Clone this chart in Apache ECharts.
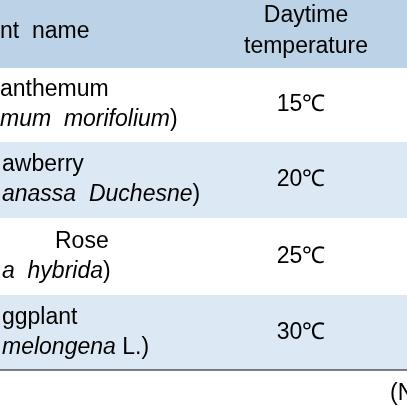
<!DOCTYPE html>
<html lang="en">
<head>
    <meta charset="UTF-8">
    <title>Table</title>
    <script src="https://cdn.jsdelivr.net/npm/echarts@6/dist/echarts.min.js"></script>
    <style>html,body{margin:0;padding:0;background:#fff;}</style>
</head>
<body>
<div id="main" style="width:407px;height:407px;"></div>
<script type="text/javascript">
    // table content (cropped on the left as in the picture)
    var headers = ['nt  name', 'Daytime\ntemperature'];
    var nameLine1 = ['anthemum', 'awberry', 'Rose', 'ggplant'];
    var nameLine2 = ['{i|mum  morifolium})', '{i|anassa  Duchesne})', '{i|a  hybrida})', '{i|melongena} L.)'];
    var nameX = [0, 2, 55, 2];
    var temps = ['15℃', '20℃', '25℃', '30℃'];
    var footnote = '(N';

    var rowTop = [68, 142, 218, 295];
    var rowBottom = [142, 218, 295, 370];
    var rowFill = ['#ffffff', '#dce8f3', '#ffffff', '#dce8f3'];
    var font = 'Liberation Sans, Arial, sans-serif';
    var fs = 23;

    var g = [];
    g.push({type: 'rect', shape: {x: 0, y: 0, width: 407, height: 68}, style: {fill: '#bcd3e7'}});
    for (var i = 0; i < temps.length; i++) {
        g.push({type: 'rect', shape: {x: 0, y: rowTop[i], width: 407, height: rowBottom[i] - rowTop[i]}, style: {fill: rowFill[i]}});
        var mid = (rowTop[i] + rowBottom[i]) / 2;
        g.push({type: 'text', x: nameX[i], y: mid - 15, style: {text: nameLine1[i], font: fs + 'px ' + font, fill: '#000', verticalAlign: 'middle'}});
        g.push({type: 'text', x: nameX[i] === 55 ? 2 : nameX[i], y: mid + 15, style: {
            text: nameLine2[i], font: fs + 'px ' + font, fill: '#000', verticalAlign: 'middle',
            rich: {i: {fontStyle: 'italic', fontSize: fs, fontFamily: font}}
        }});
        g.push({type: 'text', x: 301, y: mid, style: {text: temps[i], font: fs + 'px ' + font, fill: '#000', align: 'center', verticalAlign: 'middle'}});
    }
    g.push({type: 'text', x: 0, y: 32, style: {text: headers[0], font: fs + 'px ' + font, fill: '#000', verticalAlign: 'middle'}});
    g.push({type: 'text', x: 306, y: 31, style: {text: headers[1], font: fs + 'px ' + font, fill: '#000', align: 'center', verticalAlign: 'middle', lineHeight: 31}});
    g.push({type: 'line', shape: {x1: 0, y1: 370, x2: 407, y2: 370}, style: {stroke: '#555', lineWidth: 1.5}});
    g.push({type: 'text', x: 390, y: 394, style: {text: footnote, font: fs + 'px ' + font, fill: '#000', verticalAlign: 'middle'}});

    var myChart = echarts.init(document.getElementById('main'));
    myChart.setOption({animation: false, graphic: {elements: g}});
</script>
</body>
</html>
